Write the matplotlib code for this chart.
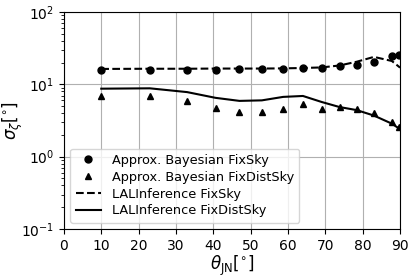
import matplotlib.pyplot as plt
import numpy as np

# data
theta = [10, 23, 33, 40.6, 47, 53, 58.7, 64, 69, 73.8, 78.4, 83, 87.8, 89.7]
bayes_fixsky = [16, 16, 16, 16, 16.2, 16.2, 16.4, 16.6, 17, 17.9, 18.7, 20.3, 24.5, 25]
bayes_fixdist = [6.9, 7.0, 5.9, 4.75, 4.1, 4.1, 4.5, 5.3, 4.6, 4.85, 4.6, 4.0, 3.0, 2.6]

lal_theta = [10, 23, 33, 40.6, 47, 53, 58.7, 64, 69, 73.8, 78.4, 83, 87.8, 90]
lal_fixsky = [16.3, 16.4, 16.4, 16.5, 16.5, 16.5, 16.6, 16.8, 17.1, 18.2, 20.5, 23.9, 21, 17]
lal_fixdist = [8.7, 8.8, 7.8, 6.5, 5.9, 6.0, 6.7, 6.9, 5.7, 4.85, 4.4, 3.7, 2.86, 2.4]

plt.figure(figsize=(4.15, 2.77), dpi=100)
ax = plt.gca()
ax.set_position([0.154, 0.173, 0.81, 0.784])

ax.plot(theta, bayes_fixsky, 'o', color='black', markersize=5, label='Approx. Bayesian FixSky')
ax.plot(theta, bayes_fixdist, '^', color='black', markersize=5, label='Approx. Bayesian FixDistSky')
ax.plot(lal_theta, lal_fixsky, '--', color='black', linewidth=1.5, label='LALInference FixSky')
ax.plot(lal_theta, lal_fixdist, '-', color='black', linewidth=1.5, label='LALInference FixDistSky')

ax.set_yscale('log')
ax.set_xlim(0, 90)
ax.set_ylim(0.1, 100)
ax.set_xticks(np.arange(0, 91, 10))
ax.grid(True, which='major', color='#b0b0b0', linewidth=0.8)
ax.tick_params(labelsize=10)

ax.set_xlabel(r'$\theta_{\rm JN}[^{\circ}]$', fontsize=12)
ax.set_ylabel(r'$\sigma_{\zeta}[^{\circ}]$', fontsize=12)
ax.xaxis.set_label_coords(0.5, -0.115)
ax.yaxis.set_label_coords(-0.115, 0.5)

ax.legend(loc='lower left', fontsize=9.3, labelspacing=0.3)

plt.savefig('out.png', dpi=100)
